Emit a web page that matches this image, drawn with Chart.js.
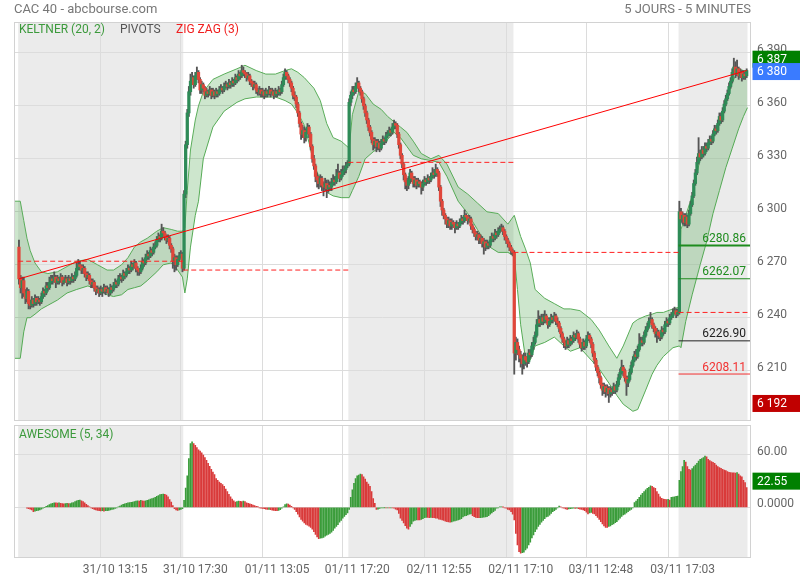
<!DOCTYPE html>
<html>
<head>
<meta charset="utf-8">
<script src="https://cdn.jsdelivr.net/npm/chart.js@4.4.0/dist/chart.umd.min.js"></script>
<style>
  html, body { margin: 0; padding: 0; background: #fff; }
  body { width: 800px; height: 580px; position: relative; overflow: hidden; font-family: Roboto, sans-serif; }
  canvas { position: absolute; left: 0; }
  #main { top: 0; }
  #ao { top: 423px; }
  .txt { position: absolute; z-index: 2; font-size: 13px; line-height: 16px; color: #777; white-space: nowrap; }
  .lab { position: absolute; z-index: 2; font-size: 12px; line-height: 14px; white-space: nowrap; }
</style>
</head>
<body>
<div class="txt" style="left:14px; top:1px;">CAC 40 - abcbourse.com</div>
<div class="txt" style="right:49px; top:1px;">5 JOURS - 5 MINUTES</div>
<div class="lab" style="left:19px; top:22px; color:#3c9a3c;">KELTNER (20, 2)</div>
<div class="lab" style="left:120px; top:22px; color:#555;">PIVOTS</div>
<div class="lab" style="left:176px; top:22px; color:#f01e1e;">ZIG ZAG (3)</div>
<div class="lab" style="left:19px; top:427px; color:#3c9a3c;">AWESOME (5, 34)</div>
<canvas id="main" width="800" height="423"></canvas>
<canvas id="ao" width="800" height="157"></canvas>
<script>
// 5-minute candles, 31/10 -> 04/11 (one entry per bar)
const firstOpen = 6280;
const closes = [
  6262,6257,6261,6254,6251,6255,6248,6247,6250,6248,6251,6249,6250,6249,6252,6255,6254,6258,6257,6260,
  6262,6261,6263,6260,6262,6261,6263,6260,6261,6262,6260,6262,6261,6263,6262,6264,6268,6270,6269,6267,
  6268,6265,6263,6264,6261,6259,6260,6257,6255,6256,6254,6256,6255,6257,6255,6256,6254,6257,6256,6258,
  6260,6259,6262,6263,6262,6265,6264,6266,6268,6267,6270,6269,6271,6268,6267,6266,6268,6272,6271,6274,
  6276,6275,6278,6277,6280,6281,6284,6286,6285,6289,6288,6286,6284,6285,6281,6279,6272,6274,6270,6273,
  6275,6276,6268,
  6310,6338,6356,6368,6374,6376,6372,6377,6379,6375,6369,6372,6370,6366,6368,6367,6369,6366,6368,6366,
  6368,6367,6369,6370,6369,6371,6372,6371,6373,6372,6374,6373,6376,6375,6378,6377,6380,6379,6378,6376,
  6377,6374,6373,6371,6372,6369,6368,6369,6367,6368,6366,6368,6367,6369,6367,6368,6366,6368,6367,6369,
  6368,6372,6376,6379,6377,6375,6373,6370,6366,6365,6361,6356,6350,6344,6346,6342,6345,6348,6344,6337,
  6330,6326,6320,6318,6316,6319,6315,6314,6316,6313,6315,6314,6316,6318,6317,6320,6322,6319,6321,6323,
  6324,6326,6327,
  6362,6366,6369,6368,6371,6373,6370,6368,6364,6360,6356,6352,6348,6345,6341,6338,6340,6337,6339,6336,
  6339,6341,6340,6343,6344,6346,6345,6348,6350,6349,6344,6338,6332,6327,6321,6317,6315,6318,6322,6319,
  6316,6318,6315,6317,6316,6314,6316,6318,6317,6319,6318,6320,6322,6321,6324,6322,6314,6306,6301,6298,
  6296,6293,6295,6292,6294,6293,6291,6293,6292,6294,6296,6295,6298,6297,6295,6296,6292,6290,6288,6286,
  6287,6284,6285,6282,6283,6280,6282,6281,6284,6286,6285,6288,6287,6289,6290,6291,6289,6286,6284,6282,
  6280,6278,6277,
  6220,6226,6222,6219,6217,6214,6218,6216,6215,6220,6219,6224,6226,6230,6236,6239,6237,6240,6238,6241,
  6239,6236,6238,6240,6239,6241,6238,6237,6234,6231,6228,6226,6224,6227,6225,6228,6227,6230,6229,6231,
  6228,6225,6223,6226,6224,6228,6230,6228,6225,6220,6216,6212,6209,6206,6202,6199,6201,6198,6200,6197,
  6199,6198,6201,6199,6202,6206,6209,6212,6210,6206,6203,6205,6209,6213,6216,6219,6218,6222,6225,6227,
  6226,6230,6233,6235,6238,6239,6236,6234,6231,6232,6230,6229,6233,6232,6236,6238,6237,6240,6241,6243,
  6244,6242,6243,
  6300,6296,6298,6294,6297,6293,6299,6304,6309,6316,6322,6328,6333,6331,6335,6333,6337,6336,6339,6341,
  6340,6344,6347,6346,6350,6354,6352,6357,6361,6364,6367,6371,6374,6379,6382,6378,6381,6377,6379,6376,
  6378,6377,6380
];
const highs = [
  6284,6264,6263,6263,6256,6257,6256,6250,6252,6251,6253,6252,6252,6251,6254,6257,6256,6260,6260,6263,
  6264,6264,6266,6264,6264,6263,6265,6264,6263,6264,6263,6264,6263,6265,6264,6266,6271,6273,6272,6270,
  6270,6269,6266,6266,6265,6262,6262,6261,6258,6258,6257,6258,6257,6259,6258,6258,6257,6259,6258,6260,
  6262,6261,6264,6265,6264,6267,6266,6268,6270,6269,6272,6271,6273,6272,6269,6268,6270,6274,6273,6276,
  6278,6277,6280,6279,6282,6283,6286,6288,6287,6293,6291,6289,6287,6287,6286,6282,6280,6276,6275,6275,
  6277,6278,6277,
  6312,6340,6358,6371,6378,6379,6377,6379,6382,6380,6376,6374,6373,6371,6370,6369,6371,6370,6370,6369,
  6370,6369,6371,6372,6371,6373,6374,6373,6375,6374,6376,6375,6378,6377,6380,6379,6383,6382,6380,6379,
  6379,6378,6375,6374,6374,6373,6370,6371,6370,6370,6369,6370,6369,6371,6370,6370,6369,6370,6369,6371,
  6370,6374,6378,6381,6380,6378,6376,6374,6371,6368,6366,6362,6357,6351,6349,6348,6347,6350,6349,6345,
  6338,6332,6327,6322,6320,6321,6320,6317,6319,6318,6318,6317,6319,6321,6320,6324,6327,6323,6324,6326,
  6326,6328,6329,
  6364,6368,6371,6371,6373,6376,6374,6371,6369,6365,6361,6357,6353,6349,6346,6342,6342,6341,6341,6340,
  6341,6343,6342,6345,6346,6348,6347,6350,6352,6351,6350,6345,6339,6333,6328,6322,6319,6320,6324,6323,
  6320,6320,6319,6319,6318,6317,6318,6320,6319,6321,6320,6322,6325,6324,6327,6325,6323,6315,6307,6302,
  6299,6297,6297,6296,6296,6295,6294,6295,6294,6296,6298,6297,6301,6299,6298,6298,6297,6293,6291,6289,
  6289,6288,6287,6286,6285,6284,6284,6283,6286,6288,6287,6290,6289,6291,6292,6293,6292,6290,6287,6285,
  6283,6281,6279,
  6278,6229,6228,6224,6221,6219,6220,6220,6218,6222,6222,6226,6229,6232,6239,6244,6241,6242,6242,6244,
  6242,6240,6240,6242,6241,6243,6242,6240,6238,6235,6232,6229,6227,6229,6228,6230,6229,6232,6231,6233,
  6232,6229,6226,6228,6227,6230,6232,6231,6229,6226,6221,6217,6213,6210,6207,6203,6203,6202,6202,6201,
  6201,6200,6203,6202,6204,6208,6211,6216,6213,6211,6207,6207,6211,6215,6218,6221,6222,6224,6231,6229,
  6229,6232,6235,6237,6240,6243,6240,6237,6235,6234,6233,6231,6235,6234,6238,6240,6239,6242,6243,6245,
  6246,6245,6245,
  6306,6302,6300,6299,6299,6298,6301,6306,6311,6318,6324,6331,6342,6335,6337,6337,6339,6339,6341,6343,
  6343,6346,6349,6349,6352,6356,6356,6359,6363,6366,6369,6373,6376,6381,6387,6385,6386,6382,6381,6380,
  6380,6379,6381
];
const lows = [
  6259,6254,6251,6252,6248,6249,6245,6245,6246,6246,6247,6247,6248,6247,6248,6251,6252,6253,6255,6256,
  6259,6259,6260,6257,6259,6259,6260,6258,6259,6260,6258,6259,6259,6260,6260,6261,6263,6267,6267,6265,
  6265,6263,6261,6262,6259,6257,6257,6255,6253,6254,6252,6253,6252,6254,6253,6254,6252,6253,6254,6255,
  6257,6257,6258,6261,6260,6261,6262,6263,6265,6265,6266,6267,6268,6266,6264,6264,6265,6267,6269,6270,
  6273,6273,6274,6275,6276,6279,6280,6283,6283,6284,6286,6284,6282,6283,6279,6277,6268,6266,6267,6269,
  6272,6274,6266,
  6267,6308,6336,6354,6366,6372,6370,6371,6375,6373,6367,6367,6368,6364,6365,6365,6366,6364,6365,6364,
  6365,6365,6366,6368,6367,6368,6370,6369,6370,6370,6371,6371,6372,6373,6374,6375,6376,6377,6376,6374,
  6375,6372,6371,6369,6370,6367,6366,6366,6365,6365,6364,6365,6365,6366,6365,6366,6364,6365,6365,6366,
  6366,6367,6371,6375,6375,6373,6371,6368,6364,6363,6359,6354,6348,6341,6342,6339,6340,6344,6342,6335,
  6328,6324,6317,6314,6313,6314,6312,6309,6312,6308,6311,6312,6312,6315,6315,6316,6319,6317,6318,6320,
  6321,6322,6325,
  6326,6360,6364,6366,6367,6370,6368,6366,6362,6358,6354,6350,6346,6343,6339,6335,6336,6334,6335,6334,
  6335,6338,6338,6339,6342,6343,6343,6344,6347,6347,6342,6336,6330,6325,6318,6313,6312,6313,6316,6317,
  6314,6314,6313,6314,6314,6310,6312,6315,6315,6316,6316,6317,6319,6319,6320,6320,6312,6303,6298,6296,
  6293,6291,6291,6290,6290,6291,6288,6290,6290,6291,6293,6293,6294,6295,6293,6294,6290,6288,6286,6284,
  6284,6282,6282,6280,6276,6278,6279,6279,6280,6283,6283,6284,6285,6286,6288,6289,6287,6284,6282,6280,
  6278,6276,6275,
  6208,6216,6219,6215,6212,6208,6211,6213,6212,6214,6217,6218,6222,6225,6229,6235,6235,6236,6236,6237,
  6237,6234,6235,6237,6237,6238,6236,6235,6232,6229,6226,6223,6222,6223,6223,6224,6225,6226,6227,6228,
  6226,6223,6221,6222,6222,6223,6227,6226,6223,6218,6214,6210,6207,6203,6200,6196,6197,6195,6196,6192,
  6195,6196,6197,6197,6198,6201,6205,6208,6207,6204,6196,6201,6204,6208,6212,6215,6216,6217,6221,6224,
  6224,6225,6229,6232,6234,6237,6234,6232,6229,6226,6228,6227,6228,6230,6231,6235,6235,6236,6239,6240,
  6242,6240,6241,
  6242,6294,6293,6292,6292,6291,6292,6298,6303,6308,6315,6321,6327,6329,6330,6331,6332,6334,6335,6338,
  6338,6339,6343,6344,6345,6349,6350,6351,6356,6360,6363,6366,6370,6373,6378,6376,6377,6375,6376,6374,
  6375,6375,6376
];
// Awesome oscillator (5, 34), one value per bar
const aoValues = [
  null,null,null,null,null,-1,-1.5,-2,-3,-5,-4.5,-4,-3.5,-3,-2,-1,0,1,2,3,
  4,4.5,5,5,4.8,5,4.5,4.2,4,4.3,4.5,4.2,4.4,5,5.5,6.5,7.5,8,8.2,7.5,
  6.5,5,3.5,2,0.5,-0.5,-1.5,-2.5,-3,-3.5,-4,-4.2,-4,-4.3,-4,-3.8,-3.5,-3,-2.5,-2,
  -1.2,-0.5,0.5,1.5,2.5,3.5,4,4.5,5,5.5,5.8,6,6.5,7,7.5,7.2,8,7.5,7,7.5,
  8,8.5,9.5,10,10.5,11.5,12.5,13.5,14.5,15,15.2,15,14,12,9,6,2,-1.5,-3,-3.5,
  -3,-2.5,-1.5,8,22,36,56,73,75,73,71,68.5,66,64.5,62.5,60,57,54,50.5,47,
  43.5,40.5,37.5,33,31,29,27.5,26,24,21,18,15,12,9.5,7.5,6,6.5,7,6.8,6.5,
  7.2,6.5,5.2,4.5,4,3.5,2.5,2,1.2,0.8,-0.5,-1,-1.2,-1.5,-2.2,-2.5,-2.3,-2.8,-3.2,-3.5,
  -3.8,-4,-3.5,-2.8,-1,0.5,3,4,3.8,2.5,1,-0.5,-2.5,-5,-8,-11,-14,-16,-18,-19.5,
  -20.5,-21.5,-23,-25,-28,-31,-34,-36,-35.5,-35,-34.5,-33,-32,-31,-30,-28.5,-26.5,-24,-22,-20,
  -17,-15,-12.5,-10.5,-8.5,-6.5,-2.5,11.5,20,27.5,33,36,37,38,37.5,35,32.5,29,26.5,24,
  18,10,4.5,-2.3,-2,-1.2,-0.8,-0.5,-0.4,-0.6,-0.5,-0.7,-0.5,-0.8,-1,-2,-3,-7,-12.6,-15,
  -18,-21,-24,-25,-22,-19,-16,-15,-14.5,-14.5,-14.5,-14,-13,-12,-11.5,-11.5,-11.8,-11.5,-12,-12,
  -12.5,-12.6,-13.5,-13.8,-14.5,-15,-16,-16.4,-16.8,-17,-16.8,-16,-15.5,-15,-14.5,-14,-13,-11,-10,-9.5,
  -8.8,-8,-7.6,-9.5,-10.7,-11.5,-11.8,-12,-11.8,-11.5,-11.2,-11,-10.7,-9.5,-8,-6.5,-5,-3.5,-1,-0.5,
  0.3,0.5,0.2,-0.5,-1,-2.3,-3,-5,-8,-14.5,-30,-43,-51,-52.7,-52,-51.5,-49,-47,-43,-40,
  -35,-31.7,-28,-25,-22,-19.5,-17,-15,-13,-11,-10.5,-9,-7,-5,-3.8,-2.5,-0.8,1.5,0.5,-0.5,
  -1,-1.8,-2.3,-1.8,-1.5,-1.2,-1,-1.2,-1,-1.5,-2,-2.3,-3,-3.8,-5.5,-7.6,-6.5,-6,-7,-7.6,
  -9.5,-11.5,-14,-16.4,-19,-21.4,-23,-23,-22,-21.4,-20,-19,-17.5,-16.4,-14.5,-12.6,-10.5,-8.8,-8,-6.5,
  -5,-3.5,-2.3,-0.5,5.4,7,9.2,11.5,14,16,18,20,21.8,23,24.5,24.2,22.5,21.8,18,15.3,
  12,10.3,9.5,9.2,9,9.1,8.4,11.5,11.8,12,12.5,13,31,41,46.6,54,52,46.6,43.6,42.8,
  44.5,46.6,48.5,50.4,53,55,56,57,58.8,58,55,53.5,52.4,51.5,50.4,48.5,46.6,45.5,44.7,43.5,
  42.8,42,40.9,40.2,39.7,39.5,39.4,39.2,39.8,38,36,35,31,28.3,22.55
];
// Keltner (20, 2) channel read at sample bars
const keltnerBars = [
  -3.1,0.8,3,5,7,10,14,18,24,30,36,43,49,55,59,64,68,72,76,80,86,90,95,99,102,
  103.5,105,107,110,112,115,121,128,136,141,148,154,160,166,170,174,178,181,184,188,192,196,201,
  206,208,212,216,221,226,230,234,238,242,246,251,257,262,267,274,280,286,292,299,305,
  309,311,313,316,319,322,328,334,340,344,350,357,362,368,373,377,383,386,391,395,398,402,408,
  412,413,416,420,425,429,433,437,441,445,449,452,454.5
];
const keltnerUpper = [
  6306,6306,6295,6285,6278,6271,6266,6265,6266,6269,6272,6273,6270,6267,6267,6270,6274,6280,6283,6285,6289,6291,6290,6289,6289,
  6291,6312,6335,6352,6360,6368,6375,6378,6381,6383,6380,6378,6378,6380,6381,6379,6376,6373,6370,6363,6350,6342,6340,
  6336,6355,6368,6367,6361,6358,6354,6351,6348,6345,6340,6333,6330,6332,6327,6314,6310,6305,6300,6299,6293,
  6298,6292,6286,6279,6271,6256,6251,6248,6245,6245,6244,6239,6233,6224,6217,6224,6237,6239,6241,6242,6243,6243,6245,
  6246,6290,6298,6309,6330,6336,6343,6352,6362,6373,6381,6380,6380
];
const keltnerLower = [
  6217,6217,6232,6240,6240,6242,6245,6247,6250,6254,6256,6258,6256,6253,6252,6253,6256,6257,6258,6261,6266,6270,6271,6267,6263,
  6254,6262,6280,6298,6306,6330,6348,6357,6362,6364,6365,6365,6365,6363,6361,6356,6349,6339,6327,6318,6311,6309,6308,
  6308,6312,6320,6330,6334,6337,6341,6345,6342,6337,6332,6330,6329,6328,6320,6306,6299,6290,6281,6277,6277,
  6275,6256,6236,6217,6216,6224,6226,6229,6224,6221,6223,6216,6211,6203,6196,6191,6187,6188,6199,6208,6213,6218,6223,
  6224,6223,6238,6253,6270,6283,6299,6312,6325,6336,6347,6354,6359
];
const dayStarts = [0, 103, 206, 309, 412];
const prevCloses = [6272, 6267, 6328, 6277, 6243];
const pivotLevels = [6280.86, 6262.07, 6226.90, 6208.11];
const zigzagBars = [0, 454];
const zigzagValues = [6262, 6380];
const xTickBars = [51, 101, 152, 202, 253, 304, 354, 405];
const xTickLabels = ['31/10 13:15', '31/10 17:30', '01/11 13:05', '01/11 17:20',
                     '02/11 12:55', '02/11 17:10', '03/11 12:48', '03/11 17:03'];
const priceTicks = [6210, 6240, 6270, 6300, 6330, 6360, 6390];
const aoTicks = [0, 60];
const aoTickLabels = ['0.0000', '60.00'];

// styles
const X_MIN = -3.1, X_MAX = 456.7;
const GRID = '#dcdcdc', SHADE = '#ebebeb', BORDER = '#d2d2d2';
const UP = '#2e8b57', DOWN = '#e0463a', WICK = '#555555';
const AO_UP = '#3a9c3a', AO_DOWN = '#d93a3a';
const pivotColors = ['#1e8c1e', '#1e8c1e', '#222222', '#f23030'];
const pivotWidths = [2, 1, 1, 1];

Chart.defaults.font.family = 'Roboto, sans-serif';

const lastBar = closes.length - 1;
const opens = closes.map((c, i) => (i === 0 ? firstOpen : closes[i - 1]));
const periodHigh = Math.max(...highs);
const periodLow = Math.min(...lows);
const lastClose = closes[lastBar];
const lastAo = aoValues[lastBar];

function dayRange(d) {
  const end = d + 1 < dayStarts.length ? dayStarts[d + 1] : lastBar + 1;
  return [dayStarts[d] - 0.5, end - 0.5];
}

function fmtPrice(v) {
  return String(v).replace(/\B(?=(\d{3})+(?!\d))/g, ' ');
}

function flatLine(x1, x2, y, color, width, dash, order) {
  return {
    type: 'line',
    data: [{ x: x1, y: y }, { x: x2, y: y }],
    borderColor: color,
    borderWidth: width,
    borderDash: dash,
    pointRadius: 0,
    fill: false,
    order: order,
  };
}

const paneDecor = {
  id: 'paneDecor',
  beforeDraw(chart) {
    const { ctx, chartArea: a } = chart;
    const x = chart.scales.x;
    ctx.save();
    ctx.fillStyle = SHADE;
    [0, 2, 4].forEach((d) => {
      const r = dayRange(d);
      const x1 = Math.max(a.left, x.getPixelForValue(r[0]));
      const x2 = Math.min(a.right, x.getPixelForValue(r[1]));
      ctx.fillRect(x1, a.top, x2 - x1, a.bottom - a.top);
    });
    ctx.restore();
  },
  afterDraw(chart) {
    const { ctx, chartArea: a } = chart;
    ctx.save();
    ctx.strokeStyle = BORDER;
    ctx.lineWidth = 1;
    ctx.strokeRect(Math.round(a.left) + 0.5, Math.round(a.top) + 0.5,
      Math.round(a.right - a.left) - 1, Math.round(a.bottom - a.top) - 1);
    const boxes = chart.options.plugins.paneDecor.boxes || [];
    ctx.font = '12px Roboto, sans-serif';
    ctx.textBaseline = 'middle';
    ctx.textAlign = 'left';
    boxes.forEach((b) => {
      const y = chart.scales.y.getPixelForValue(b.value) + b.dy;
      ctx.fillStyle = b.color;
      ctx.fillRect(a.right + 1.5, y - 8.5, 800 - a.right, 17);
      ctx.fillStyle = '#fff';
      ctx.fillText(b.text, a.right + 6, y + 0.5);
    });
    ctx.restore();
  },
};

const pivotLabels = {
  id: 'pivotLabels',
  afterDatasetsDraw(chart) {
    const { ctx } = chart;
    const xr = chart.scales.x.getPixelForValue(X_MAX) - 5;
    ctx.save();
    ctx.font = '12px Roboto, sans-serif';
    ctx.textAlign = 'right';
    ctx.textBaseline = 'middle';
    pivotLevels.forEach((lv, i) => {
      ctx.fillStyle = pivotColors[i];
      ctx.fillText(lv.toFixed(2), xr, chart.scales.y.getPixelForValue(lv) - 6.5);
    });
    ctx.restore();
  },
};

function xScale(showLabels) {
  return {
    type: 'linear',
    min: X_MIN,
    max: X_MAX,
    offset: false,
    afterBuildTicks: (s) => { s.ticks = xTickBars.map((v) => ({ value: v })); },
    afterFit: (s) => {
      s.height = showLabels ? 22.3 : 0;
      s.paddingLeft = 0;
      s.paddingRight = 0;
    },
    ticks: {
      display: showLabels,
      autoSkip: false,
      maxRotation: 0,
      labelOffset: 14.5,
      padding: 5,
      color: '#666',
      font: { size: 12 },
      callback: (v) => xTickLabels[xTickBars.indexOf(v)],
    },
    grid: { color: GRID, drawTicks: false, offset: false },
    border: { display: false },
  };
}

function yScale(min, max, ticks, fmt) {
  return {
    position: 'right',
    min: min,
    max: max,
    afterBuildTicks: (s) => { s.ticks = ticks.map((v) => ({ value: v })); },
    afterFit: (s) => {
      s.width = 49;
      s.paddingTop = 0;
      s.paddingBottom = 0;
    },
    ticks: { padding: 6, labelOffset: -3, color: '#666', font: { size: 12 }, callback: fmt },
    grid: { color: GRID, drawTicks: false },
    border: { display: false },
  };
}

// ---- price pane ----
const wickData = closes.map((c, i) => ({ x: i, y: [lows[i], highs[i]] }));
const bodyData = closes.map((c, i) => ({ x: i, y: [opens[i], c] }));
const bodyColors = closes.map((c, i) => (c >= opens[i] ? UP : DOWN));

const priceSets = [
  {
    type: 'line',
    data: keltnerBars.map((b, i) => ({ x: b, y: keltnerUpper[i] })),
    borderColor: '#5aad5a', borderWidth: 1, pointRadius: 0,
    backgroundColor: 'rgba(60,160,60,0.26)', fill: '+1', order: 6,
  },
  {
    type: 'line',
    data: keltnerBars.map((b, i) => ({ x: b, y: keltnerLower[i] })),
    borderColor: '#5aad5a', borderWidth: 1, pointRadius: 0, fill: false, order: 6,
  },
  { type: 'bar', data: wickData, backgroundColor: WICK, barThickness: 1.2, grouped: false, order: 4 },
  { type: 'bar', data: bodyData, backgroundColor: bodyColors, barThickness: 2.6, minBarLength: 1, grouped: false, order: 3 },
];
prevCloses.forEach((v, d) => {
  const r = dayRange(d);
  priceSets.push(flatLine(r[0], r[1], v, '#ff2020', 1, [5, 3], 2));
});
pivotLevels.forEach((v, i) => {
  priceSets.push(flatLine(dayRange(4)[0], X_MAX, v, pivotColors[i], pivotWidths[i], [], 1));
});
priceSets.push({
  type: 'line',
  data: zigzagBars.map((b, i) => ({ x: b, y: zigzagValues[i] })),
  borderColor: '#ff0000', borderWidth: 1, pointRadius: 0, fill: false, order: 0,
});

new Chart(document.getElementById('main'), {
  type: 'bar',
  data: { datasets: priceSets },
  plugins: [paneDecor, pivotLabels],
  options: {
    responsive: false,
    animation: false,
    events: [],
    layout: { padding: { left: 14, top: 22, right: 0, bottom: 2 } },
    plugins: {
      legend: { display: false },
      tooltip: { enabled: false },
      paneDecor: {
        boxes: [
          { value: periodHigh, color: '#008000', text: fmtPrice(periodHigh), dy: 1 },
          { value: lastClose, color: '#3a7bff', text: fmtPrice(lastClose), dy: 1 },
          { value: periodLow, color: '#c00000', text: fmtPrice(periodLow), dy: 1 },
        ],
      },
    },
    scales: {
      x: xScale(false),
      y: yScale(6181.5, 6407.5, priceTicks, (v) => fmtPrice(v)),
    },
  },
});

// ---- awesome oscillator pane ----
const aoData = [];
const aoColors = [];
aoValues.forEach((v, i) => {
  if (v === null) return;
  const prev = i > 0 ? aoValues[i - 1] : null;
  aoData.push({ x: i, y: v });
  aoColors.push(prev !== null && v > prev ? AO_UP : AO_DOWN);
});

new Chart(document.getElementById('ao'), {
  type: 'bar',
  data: {
    datasets: [
      { data: aoData, backgroundColor: aoColors, barThickness: 1, grouped: false },
    ],
  },
  plugins: [paneDecor],
  options: {
    responsive: false,
    animation: false,
    events: [],
    layout: { padding: { left: 14, top: 2, right: 0, bottom: 0 } },
    plugins: {
      legend: { display: false },
      tooltip: { enabled: false },
      paneDecor: {
        boxes: [{ value: lastAo, color: '#008000', text: lastAo.toFixed(2), dy: -6.5 }],
      },
    },
    scales: {
      x: xScale(true),
      y: yScale(-57.8, 94.4, aoTicks, (v) => aoTickLabels[aoTicks.indexOf(v)]),
    },
  },
});
</script>
</body>
</html>
